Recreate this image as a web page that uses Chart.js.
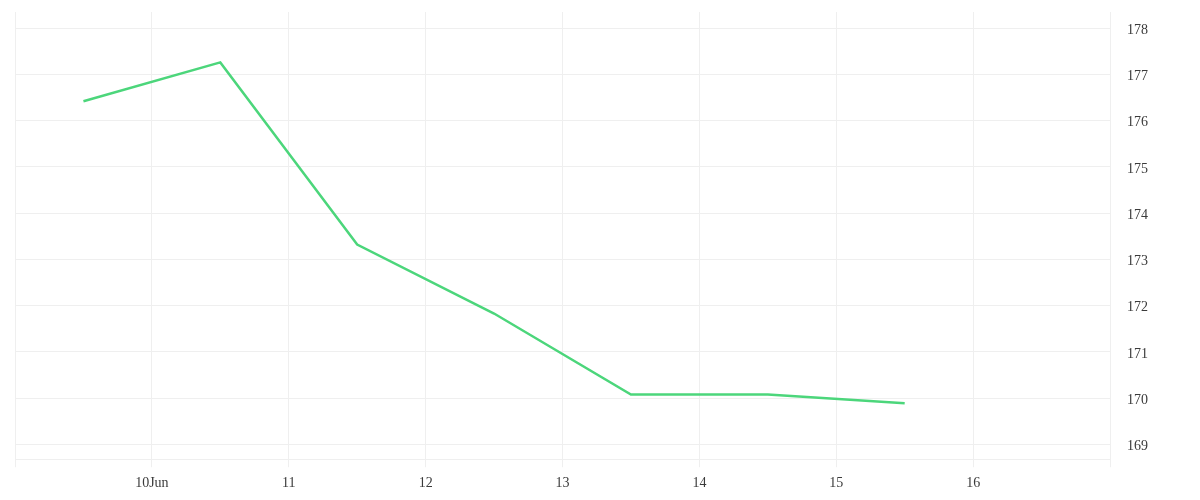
<!DOCTYPE html>
<html>
<head>
<meta charset="utf-8">
<script src="https://cdn.jsdelivr.net/npm/chart.js@4/dist/chart.umd.min.js"></script>
<style>
    html, body { margin: 0; padding: 0; background: #fff; }
    #grafico { width: 1200px; height: 500px; }
</style>
</head>
<body>
<div id="grafico"><canvas id="chartPrecio"></canvas></div>
<script>
// Días (desde el 9 de junio, 00:00) y valores de cierre
const dias = [0.5, 1.5, 2.5, 3.5, 4.5, 5.5, 6.5];
const valores = [176.42, 177.26, 173.32, 171.83, 170.08, 170.08, 169.89];
const etiquetasDias = ['', '10Jun', '11', '12', '13', '14', '15', '16', ''];
const etiquetasY = [169, 170, 171, 172, 173, 174, 175, 176, 177, 178];
const rangoY = [168.68, 178.35];

const colorGrid = '#efefef';
const fuente = { family: "'Liberation Serif', serif", size: 14 };

const puntos = dias.map((d, i) => ({ x: d, y: valores[i] }));

const ctx = document.getElementById('chartPrecio').getContext('2d');
new Chart(ctx, {
    type: 'line',
    data: {
        datasets: [{
            data: puntos,
            borderColor: '#4cd67b',
            borderWidth: 2.5,
            pointRadius: 0,
            tension: 0,
            fill: false
        }]
    },
    options: {
        responsive: true,
        maintainAspectRatio: false,
        animation: false,
        layout: { padding: { top: 12, left: 15, right: 51, bottom: 0 } },
        plugins: {
            legend: { display: false },
            tooltip: { enabled: false }
        },
        scales: {
            x: {
                type: 'linear',
                min: 0,
                max: etiquetasDias.length - 1,
                grid: { color: colorGrid, tickLength: 8 },
                border: { color: colorGrid },
                afterBuildTicks: (scale) => {
                    scale.ticks = etiquetasDias.map((_, i) => ({ value: i }));
                },
                ticks: {
                    color: '#3a3a3a',
                    font: fuente,
                    padding: 8,
                    maxRotation: 0,
                    autoSkip: false,
                    callback: (v) => etiquetasDias[v]
                }
            },
            y: {
                position: 'right',
                min: rangoY[0],
                max: rangoY[1],
                // marcas invisibles para separar las etiquetas del eje
                grid: { color: colorGrid, drawTicks: true, tickLength: 16, tickColor: 'rgba(0,0,0,0)' },
                border: { color: colorGrid },
                afterBuildTicks: (scale) => {
                    scale.ticks = etiquetasY.map(v => ({ value: v }));
                },
                ticks: {
                    color: '#3a3a3a',
                    font: fuente,
                    padding: 1,
                    labelOffset: 2,
                    callback: (v) => String(v)
                }
            }
        }
    }
});
</script>
</body>
</html>
